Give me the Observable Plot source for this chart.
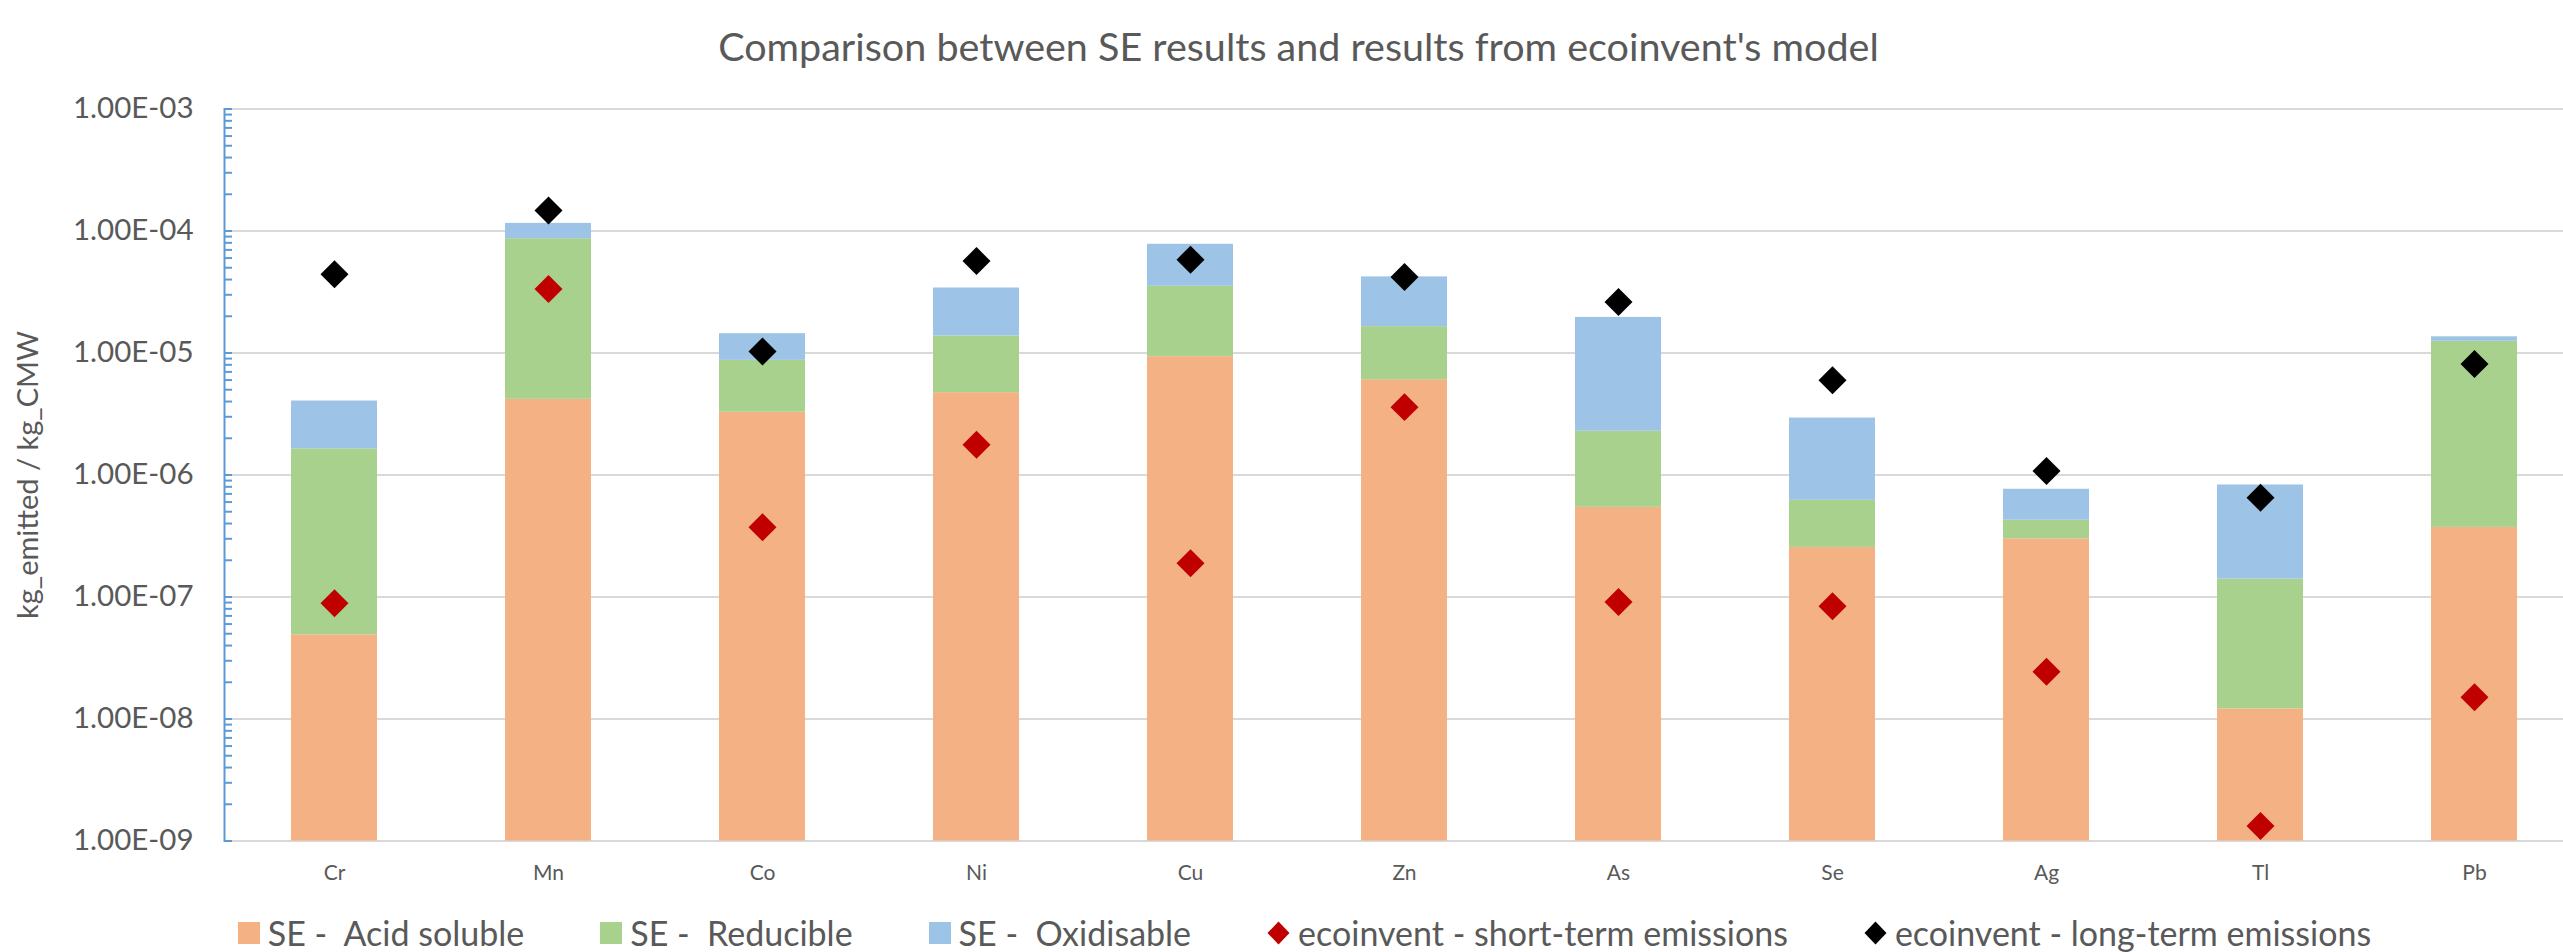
<!DOCTYPE html>
<html>
<head>
<meta charset="utf-8">
<script src="https://cdn.jsdelivr.net/npm/d3@7"></script>
<script src="https://cdn.jsdelivr.net/npm/@observablehq/plot@0.6"></script>
<style>
  html, body { margin: 0; padding: 0; background: #ffffff; }
  #chart { width: 2563px; height: 952px; position: relative; overflow: hidden;
           font-family: Lato, "Open Sans", sans-serif; color: #595959; background: #fff; }
  #title { height: 80px; box-sizing: border-box; padding-top: 26px; padding-left: 34px;
           font-size: 39.5px; line-height: 40px; text-align: center; white-space: pre; }
  #plot svg { display: block; }
  #legend { height: 57px; box-sizing: border-box; padding-top: 19px; padding-left: 46px;
            display: flex; justify-content: center; align-items: center; gap: 76px;
            font-size: 34px; line-height: 38px; white-space: pre; }
  .item { display: flex; align-items: center; gap: 8px; }
  .sw { width: 22px; height: 22px; display: inline-block; }
</style>
</head>
<body>
<div id="chart">
  <div id="title"></div>
  <div id="plot"></div>
  <div id="legend"></div>
</div>
<script>
// ---- data ----
const title = "Comparison between SE results and results from ecoinvent's model";
const yTitle = "kg_emitted / kg_CMW";
const categories = ["Cr", "Mn", "Co", "Ni", "Cu", "Zn", "As", "Se", "Ag", "Tl", "Pb"];
// stacked SE fractions (segment values, stacked linearly on a log axis)
const acidSoluble = [4.9e-8, 4.17e-6, 3.27e-6, 4.73e-6, 9.33e-6, 6.04e-6, 5.43e-7, 2.55e-7, 3.0e-7, 1.21e-8, 3.72e-7];
const reducible   = [1.59e-6, 8.23e-5, 5.43e-6, 9.07e-6, 2.59e-5, 1.04e-5, 1.74e-6, 3.65e-7, 1.26e-7, 1.28e-7, 1.21e-5];
const oxidisable  = [2.4e-6, 2.9e-5, 5.7e-6, 2.03e-5, 4.26e-5, 2.56e-5, 1.73e-5, 2.31e-6, 3.38e-7, 6.88e-7, 1.1e-6];
// ecoinvent markers
const shortTerm = [8.9e-8, 3.35e-5, 3.73e-7, 1.77e-6, 1.89e-7, 3.6e-6, 9.1e-8, 8.4e-8, 2.44e-8, 1.33e-9, 1.51e-8];
const longTerm  = [4.42e-5, 1.47e-4, 1.03e-5, 5.67e-5, 5.82e-5, 4.2e-5, 2.62e-5, 5.97e-6, 1.08e-6, 6.52e-7, 8.13e-6];
const seriesNames = ["SE -  Acid soluble", "SE -  Reducible", "SE -  Oxidisable",
                     "ecoinvent - short-term emissions", "ecoinvent - long-term emissions"];
const seriesColors = ["#F4B183", "#A9D18E", "#9DC3E6", "#C00000", "#000000"];
const yTicks = [1e-9, 1e-8, 1e-7, 1e-6, 1e-5, 1e-4, 1e-3];
const yTickLabels = ["1.00E-09", "1.00E-08", "1.00E-07", "1.00E-06", "1.00E-05", "1.00E-04", "1.00E-03"];
const yDomain = [1e-9, 1e-3];

// ---- build tables ----
const barRows = [];
categories.forEach((c, i) => {
  const a = acidSoluble[i], r = reducible[i], o = oxidisable[i];
  barRows.push({cat: c, series: seriesNames[0], y1: yDomain[0], y2: a});
  barRows.push({cat: c, series: seriesNames[1], y1: a, y2: a + r});
  barRows.push({cat: c, series: seriesNames[2], y1: a + r, y2: a + r + o});
});
const dotRows = [];
categories.forEach((c, i) => {
  dotRows.push({cat: c, series: seriesNames[3], v: shortTerm[i]});
  dotRows.push({cat: c, series: seriesNames[4], v: longTerm[i]});
});
const minorTicks = [];
for (let k = 0; k < yTicks.length - 1; k++) {
  for (let m = 1; m <= 9; m++) minorTicks.push(m * yTicks[k]);
}
minorTicks.push(yTicks[yTicks.length - 1]);

// ---- title ----
document.getElementById("title").textContent = title;

// ---- plot ----
const W = 2563, H = 815, ML = 224;
const chart = Plot.plot({
  width: W, height: H,
  marginTop: 28.5, marginBottom: 54.5, marginLeft: ML, marginRight: 0,
  style: {fontFamily: "Lato, 'Open Sans', sans-serif", color: "#595959", background: "white"},
  x: {type: "band", domain: categories, range: [ML, 2583], paddingInner: 0.6, paddingOuter: 0.3},
  y: {type: "log", domain: yDomain},
  color: {domain: seriesNames, range: seriesColors},
  marks: [
    Plot.ruleY(yTicks, {stroke: "#D9D9D9", strokeWidth: 2}),
    Plot.barY(barRows, {x: "cat", y1: "y1", y2: "y2", fill: "series"}),
    Plot.dot(dotRows, {x: "cat", y: "v", fill: "series", symbol: "diamond2", r: 12.6}),
    Plot.frame({anchor: "left", stroke: "#5B9BD5", strokeWidth: 2}),
    Plot.tickY(minorTicks, {y: d => d, stroke: "#5B9BD5", strokeWidth: 2, insetRight: W - ML - 8}),
    Plot.axisY({ticks: yTicks, tickFormat: d => yTickLabels[yTicks.indexOf(d)], tickSize: 0,
                tickPadding: 31, fontSize: 29.5, label: null}),
    Plot.axisX({tickSize: 0, tickPadding: 24.5, fontSize: 21, label: null}),
    Plot.text([yTitle], {frameAnchor: "left", textAnchor: "middle", rotate: -90, dx: -196,
                         fontSize: 29, fill: "#595959"})
  ]
});
document.getElementById("plot").appendChild(chart);

// ---- legend ----
const legend = document.getElementById("legend");
seriesNames.forEach((name, i) => {
  const item = document.createElement("div");
  item.className = "item";
  let marker;
  if (i < 3) {
    marker = document.createElement("span");
    marker.className = "sw";
    marker.style.background = seriesColors[i];
  } else {
    marker = document.createElementNS("http://www.w3.org/2000/svg", "svg");
    marker.setAttribute("width", 23); marker.setAttribute("height", 24);
    marker.setAttribute("viewBox", "-11.5 -12 23 24");
    const p = document.createElementNS("http://www.w3.org/2000/svg", "polygon");
    p.setAttribute("points", "0,-11.5 11,0 0,11.5 -11,0");
    p.setAttribute("fill", seriesColors[i]);
    marker.appendChild(p);
  }
  const label = document.createElement("span");
  label.textContent = name;
  item.appendChild(marker);
  item.appendChild(label);
  legend.appendChild(item);
});
</script>
</body>
</html>
